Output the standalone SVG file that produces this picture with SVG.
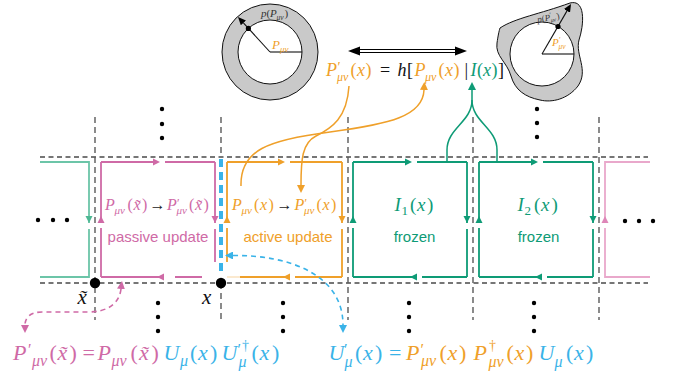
<svg xmlns="http://www.w3.org/2000/svg" width="673" height="376" viewBox="0 0 673 376">
<style>
.m{font-family:"Liberation Serif","DejaVu Serif",serif}
.i{font-style:italic}
.s{font-family:"Liberation Sans",Arial,sans-serif;font-size:15px;text-anchor:middle}
.hg{fill:none;stroke:#4a4a4a;stroke-width:1.3;stroke-dasharray:5 3.5}
.vg{fill:none;stroke:#5a5a5a;stroke-width:1.4;stroke-dasharray:6 4}
.lp{fill:none;stroke-width:1.8}
.pk{stroke:#CF6AA6}.fpk{fill:#CF6AA6}
.or{stroke:#EFA02A}.for{fill:#EFA02A}
.gr{stroke:#0E9B76}.fgr{fill:#0E9B76}
.bl{stroke:#3AB3E8}.fbl{fill:#3AB3E8}
.dot{fill:#000}
</style>
<defs>
<marker id="ah-k" markerUnits="userSpaceOnUse" markerWidth="9" markerHeight="7" refX="0" refY="3.5" orient="auto"><path d="M0,0 L8,3.5 L0,7 z" fill="#000"/></marker>
<marker id="ah-o" markerUnits="userSpaceOnUse" markerWidth="9" markerHeight="8" refX="0" refY="4" orient="auto-start-reverse"><path d="M0,0 L8,4 L0,8 z" fill="#EFA02A"/></marker>
<marker id="ah-g" markerUnits="userSpaceOnUse" markerWidth="9" markerHeight="8" refX="0" refY="4" orient="auto-start-reverse"><path d="M0,0 L8,4 L0,8 z" fill="#0E9B76"/></marker>
<marker id="ah-b" markerUnits="userSpaceOnUse" markerWidth="9" markerHeight="8" refX="0" refY="4" orient="auto-start-reverse"><path d="M0,0 L8,4 L0,8 z" fill="#3AB3E8"/></marker>
<marker id="ah-p" markerUnits="userSpaceOnUse" markerWidth="9" markerHeight="8" refX="0" refY="4" orient="auto-start-reverse"><path d="M0,0 L8,4 L0,8 z" fill="#CF6AA6"/></marker>
</defs>

<g id="lattice">
<path class="hg" d="M40,157 H648 M40,283 H648"/>
<path class="vg" d="M95,117 V320 M221,117 V157 M221,283 V320 M348,117 V320 M473,117 V320 M599,117 V320"/>
<g class="dot">
<circle cx="162" cy="109" r="2.2"/><circle cx="162" cy="124" r="2.2"/><circle cx="162" cy="138" r="2.2"/>
<circle cx="537" cy="109" r="2.2"/><circle cx="537" cy="123" r="2.2"/><circle cx="537" cy="137" r="2.2"/>
<circle cx="158" cy="303" r="2.2"/><circle cx="158" cy="317" r="2.2"/><circle cx="158" cy="331" r="2.2"/>
<circle cx="283" cy="303" r="2.2"/><circle cx="283" cy="317" r="2.2"/><circle cx="283" cy="331" r="2.2"/>
<circle cx="409" cy="303" r="2.2"/><circle cx="409" cy="317" r="2.2"/><circle cx="409" cy="331" r="2.2"/>
<circle cx="534" cy="303" r="2.2"/><circle cx="534" cy="317" r="2.2"/><circle cx="534" cy="331" r="2.2"/>
<circle cx="38" cy="220" r="2.2"/><circle cx="53" cy="220" r="2.2"/><circle cx="67" cy="220" r="2.2"/>
<circle cx="625" cy="221" r="2.2"/><circle cx="639" cy="221" r="2.2"/><circle cx="653" cy="221" r="2.2"/>
</g>
</g>

<g id="loop-left-partial">
<path class="lp" stroke="#6CC5A8" d="M40,162 H89 V223 M89,229 V277 H40"/>
<polygon fill="#4DB893" points="85.5,216 92.5,216 89,223"/>
</g>

<g id="loop-passive">
<path class="lp pk" d="M101,162 H156 M165,162 H215 M215,162 V223 M215,229 V262 M101,277 H164 M175,277 H202 M101,162 V223 M101,228 V277"/>
<g class="fpk">
<polygon points="153,158.5 160,162 153,165.5"/>
<polygon points="211.5,216 218.5,216 215,223"/>
<polygon points="164,273.5 164,280.5 157,277"/>
<polygon points="97.5,223 104.5,223 101,216"/>
</g>
<text class="m" font-size="16" fill="#CF6AA6">
<tspan x="105" y="210" class="i">P</tspan><tspan x="114.5" y="214" font-size="11" class="i">μν</tspan><tspan x="127.5" y="210">(</tspan><tspan x="133.5" y="210" class="i">x̃</tspan><tspan x="142" y="210">)</tspan>
<tspan x="149.5" y="210" fill="#222">→</tspan>
<tspan x="167" y="210" class="i">P</tspan><tspan x="177" y="207" font-size="12">′</tspan><tspan x="176.5" y="214" font-size="11" class="i">μν</tspan><tspan x="189" y="210">(</tspan><tspan x="195" y="210" class="i">x̃</tspan><tspan x="203.5" y="210">)</tspan>
</text>
<text class="s" x="158" y="242" fill="#CF6AA6">passive update</text>
</g>

<g id="loop-active">
<path class="lp or" d="M227,162 H281 M290,162 H342 M342,162 V223 M342,229 V277 M240,277 H290 M295,277 H342 M227,162 V223 M227,228 V262"/>
<path class="lp or" opacity="0.25" d="M227,277 H240"/>
<g class="for">
<polygon points="278,158.5 285,162 278,165.5"/>
<polygon points="338.5,216 345.5,216 342,223"/>
<polygon points="290,273.5 290,280.5 283,277"/>
<polygon points="223.5,223 230.5,223 227,216"/>
</g>
<text class="m" font-size="16" fill="#EFA02A">
<tspan x="232" y="210" class="i">P</tspan><tspan x="241.5" y="214" font-size="11" class="i">μν</tspan><tspan x="254" y="210">(</tspan><tspan x="260" y="210" class="i">x</tspan><tspan x="268.5" y="210">)</tspan>
<tspan x="276.5" y="210" fill="#222">→</tspan>
<tspan x="294.5" y="210" class="i">P</tspan><tspan x="304.5" y="207" font-size="12">′</tspan><tspan x="304" y="214" font-size="11" class="i">μν</tspan><tspan x="316.5" y="210">(</tspan><tspan x="322.5" y="210" class="i">x</tspan><tspan x="331" y="210">)</tspan>
</text>
<text class="s" x="288" y="242" fill="#EFA02A">active update</text>
</g>

<g id="loop-frozen-1">
<path class="lp gr" d="M353,162 H408 M417,162 H467 M467,162 V223 M467,229 V277 M353,277 H417 M422,277 H467 M353,162 V223 M353,228 V277"/>
<g class="fgr">
<polygon points="405,158.5 412,162 405,165.5"/>
<polygon points="463.5,216 470.5,216 467,223"/>
<polygon points="417,273.5 417,280.5 410,277"/>
<polygon points="349.5,223 356.5,223 353,216"/>
</g>
<text class="m" font-size="19" fill="#0E9B76"><tspan x="394.5" y="211" class="i">I</tspan><tspan x="401.5" y="215" font-size="13">1</tspan><tspan x="410" y="211">(</tspan><tspan x="417" y="211" class="i">x</tspan><tspan x="427" y="211">)</tspan></text>
<text class="s" x="414.5" y="242" fill="#0E9B76">frozen</text>
</g>

<g id="loop-frozen-2">
<path class="lp gr" d="M479,162 H534 M543,162 H593 M593,162 V223 M593,229 V277 M479,277 H542 M547,277 H593 M479,162 V223 M479,228 V277"/>
<g class="fgr">
<polygon points="531,158.5 538,162 531,165.5"/>
<polygon points="589.5,216 596.5,216 593,223"/>
<polygon points="542,273.5 542,280.5 535,277"/>
<polygon points="475.5,223 482.5,223 479,216"/>
</g>
<text class="m" font-size="19" fill="#0E9B76"><tspan x="517.5" y="211" class="i">I</tspan><tspan x="524.5" y="215" font-size="13">2</tspan><tspan x="534" y="211">(</tspan><tspan x="541" y="211" class="i">x</tspan><tspan x="551.5" y="211">)</tspan></text>
<text class="s" x="538.5" y="242" fill="#0E9B76">frozen</text>
</g>

<g id="loop-right-partial">
<path class="lp" stroke="#E9A8CB" d="M650,162 H605 V223 M605,228 V277 H650"/>
<polygon fill="#DE86B8" points="601.5,223 608.5,223 605,216"/>
</g>

<g id="link-update">
<path fill="none" class="bl" stroke-width="4" stroke-dasharray="8 5" d="M221,159 V273"/>
</g>

<g id="sites">
<circle cx="95" cy="283" r="5.2" fill="#000"/>
<circle cx="221" cy="283" r="5.2" fill="#000"/>
<text class="m i" font-size="21" fill="#111" x="77.5" y="304">x̃</text>
<text class="m i" font-size="21" fill="#111" x="202" y="304">x</text>
</g>

<g id="circle-before">
<circle cx="270" cy="52" r="48" fill="#C9C9C9" stroke="#111" stroke-width="1"/>
<circle cx="270" cy="52" r="32" fill="#fff" stroke="#111" stroke-width="1"/>
<path d="M270,52 H302" stroke="#111" stroke-width="1.1"/>
<path d="M270,52 L243.4,22.9" stroke="#111" stroke-width="1.1" marker-end="url(#ah-k)"/>
<circle cx="248.4" cy="28.4" r="2.6" fill="#000"/>
<text class="m" font-size="11" fill="#333"><tspan x="261" y="17" class="i">p</tspan><tspan x="266.5" y="17">(</tspan><tspan x="270" y="17" class="i">P</tspan><tspan x="276.5" y="19.5" font-size="7.5" class="i">μν</tspan><tspan x="284.5" y="17">)</tspan></text>
<text class="m i" font-size="13" fill="#EFA02A"><tspan x="272" y="49">P</tspan><tspan x="280" y="52" font-size="9">μν</tspan></text>
</g>

<g id="circle-after">
<path d="M500,28 C515,18 540,14 570,3 C586,-1 584,25 579,40 C575,55 589,70 578,86 C568,99 552,103 540,100 C525,97 515,90 511,76 C507,62 495,56 497,43 C498,36 499,31 500,28 Z" fill="#C9C9C9" stroke="#111" stroke-width="1"/>
<circle cx="542" cy="54" r="32" fill="#fff" stroke="#111" stroke-width="1"/>
<path d="M542,54 H574" stroke="#111" stroke-width="1.1"/>
<path d="M542,54 L567,10.9" stroke="#111" stroke-width="1.1" marker-end="url(#ah-k)"/>
<circle cx="558" cy="26.5" r="2.6" fill="#000"/>
<text class="m" font-size="9" fill="#333" transform="rotate(-10 552 17)"><tspan x="537" y="20" class="i">p</tspan><tspan x="541.5" y="20">(</tspan><tspan x="544.5" y="20" class="i">P</tspan><tspan x="550" y="17" font-size="7">′</tspan><tspan x="550" y="22" font-size="6" class="i">μν</tspan><tspan x="556.5" y="20">)</tspan></text>
<text class="m" font-size="11" fill="#EFA02A"><tspan x="552" y="46" class="i">P</tspan><tspan x="559" y="43" font-size="8">′</tspan><tspan x="558.5" y="49" font-size="7.5" class="i">μν</tspan></text>
</g>

<g id="eq-top">
<path d="M359,49.5 H456 M359,52.5 H456" stroke="#000" stroke-width="1"/>
<polygon points="348,51 360,46.5 360,55.5" fill="#000"/>
<polygon points="467,51 455,46.5 455,55.5" fill="#000"/>
<text class="m" font-size="18">
<tspan x="326" y="76" class="i" fill="#EFA02A">P</tspan><tspan x="337.5" y="72" font-size="14" fill="#EFA02A">′</tspan><tspan x="337" y="81" font-size="12" class="i" fill="#EFA02A">μν</tspan><tspan x="350.5" y="76" fill="#EFA02A">(</tspan><tspan x="357" y="76" class="i" fill="#EFA02A">x</tspan><tspan x="365.5" y="76" fill="#EFA02A">)</tspan>
<tspan x="380" y="76" fill="#111">=</tspan><tspan x="397.5" y="76" class="i" fill="#111">h</tspan><tspan x="407" y="76" fill="#111">[</tspan>
<tspan x="414.5" y="76" class="i" fill="#EFA02A">P</tspan><tspan x="425" y="81" font-size="12" class="i" fill="#EFA02A">μν</tspan><tspan x="438.5" y="76" fill="#EFA02A">(</tspan><tspan x="445" y="76" class="i" fill="#EFA02A">x</tspan><tspan x="453.5" y="76" fill="#EFA02A">)</tspan>
<tspan x="464.5" y="76" fill="#111">|</tspan>
<tspan x="470.5" y="76" class="i" fill="#0E9B76">I</tspan><tspan x="477" y="76" fill="#0E9B76">(</tspan><tspan x="483" y="76" class="i" fill="#0E9B76">x</tspan><tspan x="491.5" y="76" fill="#0E9B76">)</tspan><tspan x="498" y="76" fill="#111">]</tspan>
</text>
</g>

<g id="eq-passive">
<text class="m" font-size="22">
<tspan x="13" y="360" class="i" fill="#CF6AA6">P</tspan><tspan x="28" y="355" font-size="16" fill="#CF6AA6">′</tspan><tspan x="32" y="366" font-size="16" class="i" fill="#CF6AA6">μν</tspan><tspan x="49.5" y="360" fill="#CF6AA6">(</tspan><tspan x="57.5" y="360" class="i" fill="#CF6AA6">x̃</tspan><tspan x="69.5" y="360" fill="#CF6AA6">)</tspan>
<tspan x="82.5" y="360" fill="#CF6AA6">=</tspan>
<tspan x="97.5" y="360" class="i" fill="#CF6AA6">P</tspan><tspan x="111.5" y="366" font-size="16" class="i" fill="#CF6AA6">μν</tspan><tspan x="130.5" y="360" fill="#CF6AA6">(</tspan><tspan x="139" y="360" class="i" fill="#CF6AA6">x̃</tspan><tspan x="151.5" y="360" fill="#CF6AA6">)</tspan>
<tspan x="163.5" y="360" class="i" fill="#3AB3E8">U</tspan><tspan x="180" y="366" font-size="16" class="i" fill="#3AB3E8">μ</tspan><tspan x="190" y="360" fill="#3AB3E8">(</tspan><tspan x="198" y="360" class="i" fill="#3AB3E8">x</tspan><tspan x="210" y="360" fill="#3AB3E8">)</tspan>
<tspan x="221.5" y="360" class="i" fill="#3AB3E8">U</tspan><tspan x="237.5" y="355" font-size="16" fill="#3AB3E8">′</tspan><tspan x="242" y="350" font-size="14" fill="#3AB3E8">†</tspan><tspan x="238.5" y="367" font-size="16" class="i" fill="#3AB3E8">μ</tspan><tspan x="251.5" y="360" fill="#3AB3E8">(</tspan><tspan x="259.5" y="360" class="i" fill="#3AB3E8">x</tspan><tspan x="272" y="360" fill="#3AB3E8">)</tspan>
</text>
</g>

<g id="eq-active">
<text class="m" font-size="22">
<tspan x="328.5" y="360" class="i" fill="#3AB3E8">U</tspan><tspan x="344" y="355" font-size="16" fill="#3AB3E8">′</tspan><tspan x="344.5" y="367" font-size="16" class="i" fill="#3AB3E8">μ</tspan><tspan x="355" y="360" fill="#3AB3E8">(</tspan><tspan x="363" y="360" class="i" fill="#3AB3E8">x</tspan><tspan x="375" y="360" fill="#3AB3E8">)</tspan>
<tspan x="389" y="360" fill="#3AB3E8">=</tspan>
<tspan x="406" y="360" class="i" fill="#EFA02A">P</tspan><tspan x="420.5" y="355" font-size="16" fill="#EFA02A">′</tspan><tspan x="421" y="366" font-size="16" class="i" fill="#EFA02A">μν</tspan><tspan x="439.5" y="360" fill="#EFA02A">(</tspan><tspan x="447.5" y="360" class="i" fill="#EFA02A">x</tspan><tspan x="459" y="360" fill="#EFA02A">)</tspan>
<tspan x="473.5" y="360" class="i" fill="#EFA02A">P</tspan><tspan x="489" y="350" font-size="14" fill="#EFA02A">†</tspan><tspan x="488.5" y="367" font-size="16" class="i" fill="#EFA02A">μν</tspan><tspan x="506.5" y="360" fill="#EFA02A">(</tspan><tspan x="514.5" y="360" class="i" fill="#EFA02A">x</tspan><tspan x="526" y="360" fill="#EFA02A">)</tspan>
<tspan x="538.5" y="360" class="i" fill="#3AB3E8">U</tspan><tspan x="554.5" y="367" font-size="16" class="i" fill="#3AB3E8">μ</tspan><tspan x="566" y="360" fill="#3AB3E8">(</tspan><tspan x="574" y="360" class="i" fill="#3AB3E8">x</tspan><tspan x="586" y="360" fill="#3AB3E8">)</tspan>
</text>
</g>

<g id="connectors" fill="none">
<path class="or" stroke-width="1.5" d="M349,86 C347,118 332,128 316,136 C302,143 301,160 301,185" marker-end="url(#ah-o)"/>
<path class="or" stroke-width="1.5" d="M241,186 C240,150 268,140 330,132 C390,124 423,116 424,90" marker-end="url(#ah-o)"/>
<path class="gr" stroke-width="1.5" d="M447,162 L447,150 C447,128 472,122 472,100 L472,90" marker-end="url(#ah-g)"/>
<path class="gr" stroke-width="1.5" d="M497,162 L497,150 C497,128 472,122 472,100"/>
<path class="bl" stroke-width="1.6" stroke-dasharray="5 4" d="M233,255.5 C290,255 343,275 343,325" marker-start="url(#ah-b)" marker-end="url(#ah-b)"/>
<path class="pk" stroke-width="1.6" stroke-dasharray="5 4" d="M121,289 C119,305 106,312 88,312 L42,312 C30,312 25,318 25,325" marker-start="url(#ah-p)" marker-end="url(#ah-p)"/>
</g>
</svg>
